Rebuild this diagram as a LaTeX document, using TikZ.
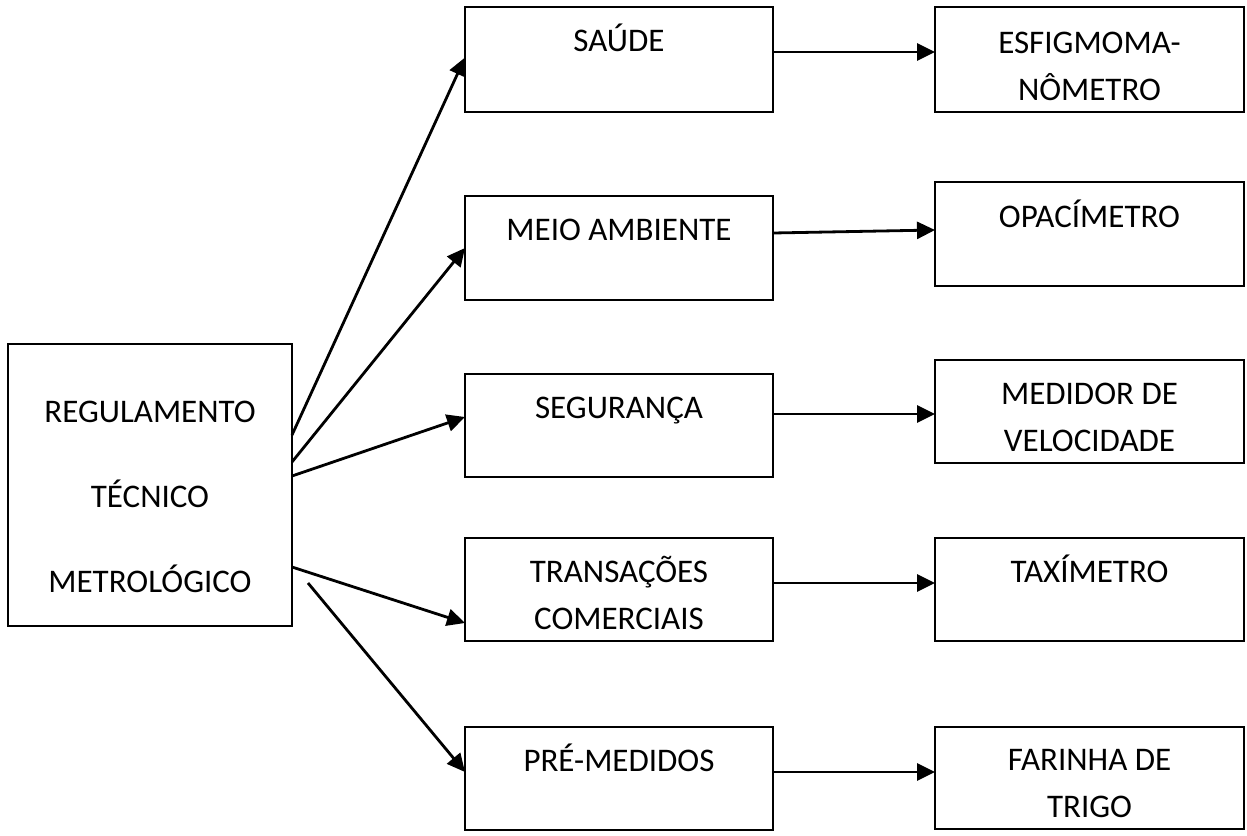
\documentclass[tikz,border=0pt]{standalone}
\usepackage{fontspec}
\setmainfont{Carlito}
\usetikzlibrary{arrows.meta}
\begin{document}
\begin{tikzpicture}[x=1pt,y=-1pt,
  box/.style={draw=black, line width=1.8pt, inner sep=0pt, outer sep=0pt, rectangle},
  mid/.style={box, minimum width=308pt},
  rgt/.style={box, minimum width=309pt},
  txt/.style={anchor=base, align=center, inner sep=0pt, font=\fontsize{33}{47}\selectfont},
  arr/.style={draw=black, line width=2.8pt, -{Triangle[length=18pt,width=17pt]}}]
\useasboundingbox (0,0) rectangle (1247,835);
% left box
\node[box, minimum width=284pt, minimum height=282pt] (reg) at (150,485) {};
\node[txt, font=\fontsize{33}{85}\selectfont] (treg) at ([yshift=-248pt]reg.north) {REGULAMENTO\\TÉCNICO\\METROLÓGICO};
% middle boxes
\node[mid, minimum height=105pt] (saude) at (619,59.5) {};
\node[mid, minimum height=104pt] (meio) at (619,248) {};
\node[mid, minimum height=103pt] (seg) at (619,425.5) {};
\node[mid, minimum height=103pt] (trans) at (619,589.5) {};
\node[mid, minimum height=103pt] (pre) at (619,778.5) {};
% right boxes
\node[rgt, minimum height=105pt] (esf) at (1089.5,59.5) {};
\node[rgt, minimum height=104pt] (opac) at (1089.5,234) {};
\node[rgt, minimum height=103pt] (med) at (1089.5,411.5) {};
\node[rgt, minimum height=103pt] (taxi) at (1089.5,589.5) {};
\node[rgt, minimum height=102pt] (far) at (1089.5,778) {};
% texts
\node[txt] (tsaude) at ([yshift=-44pt]saude.north) {SAÚDE};
\node[txt] (tmeio) at ([yshift=-44pt]meio.north) {MEIO AMBIENTE};
\node[txt] (tseg) at ([yshift=-44pt]seg.north) {SEGURANÇA};
\node[txt] (ttrans) at ([yshift=-91pt]trans.north) {TRANSAÇÕES\\COMERCIAIS};
\node[txt] (tpre) at ([yshift=-44pt]pre.north) {PRÉ-MEDIDOS};
\node[txt] (tesf) at ([yshift=-93pt]esf.north) {ESFIGMOMA-\\NÔMETRO};
\node[txt] (topac) at ([yshift=-45pt]opac.north) {OPACÍMETRO};
\node[txt] (tmed) at ([yshift=-91pt]med.north) {MEDIDOR DE\\VELOCIDADE};
\node[txt] (ttaxi) at ([yshift=-44pt]taxi.north) {TAXÍMETRO};
\node[txt] (tfar) at ([yshift=-90pt]far.north) {FARINHA DE\\TRIGO};
% arrows from left box
\draw[arr] ([yshift=50pt]reg.east) -- ([yshift=2pt]saude.west);
\draw[arr] ([yshift=23pt]reg.east) -- (meio.west);
\draw[arr] ([yshift=9pt]reg.east) -- ([yshift=8.5pt]seg.west);
\draw[arr] ([yshift=-82pt]reg.east) -- ([yshift=-33.5pt]trans.west);
\draw[arr] ([xshift=16pt,yshift=-98pt]reg.east) -- ([yshift=6.5pt]pre.west);
% arrows middle to right
\draw[arr] ([yshift=7.5pt]saude.east) -- ([yshift=7.5pt]esf.west);
\draw[arr] ([yshift=15pt]meio.east) -- ([yshift=4pt]opac.west);
\draw[arr] ([yshift=11.5pt]seg.east) -- ([yshift=-2.5pt]med.west);
\draw[arr] ([yshift=6.5pt]trans.east) -- ([yshift=6.5pt]taxi.west);
\draw[arr] ([yshift=6.5pt]pre.east) -- ([yshift=6pt]far.west);
\end{tikzpicture}
\end{document}
